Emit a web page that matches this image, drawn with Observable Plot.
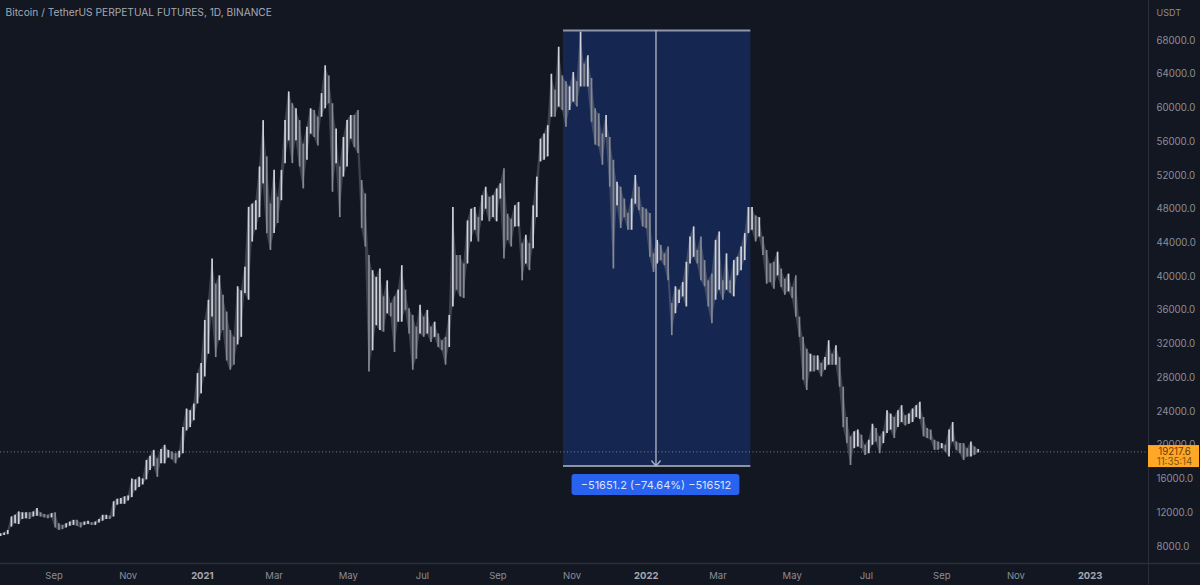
<!DOCTYPE html>
<html>
<head>
<meta charset="utf-8">
<script src="https://cdn.jsdelivr.net/npm/d3@7"></script>
<script src="https://cdn.jsdelivr.net/npm/@observablehq/plot@0.6"></script>
<style>
html,body{margin:0;padding:0;background:#131722;overflow:hidden}
svg{display:block}
</style>
</head>
<body>
<div id="chart"></div>
<script>
// One candle every 3 days, thousands of USDT
const firstDay = "2020-07-19";
const stepDays = 3;
const lows = [
9.2,9.3,9.4,10.3,10.7,10.6,11.2,11.3,11.2,11.5,11.6,11.5,11.4,11.3,11.4,10.2,9.9,10.0,10.2,10.4,
10.5,10.4,10.2,10.5,10.6,10.5,10.5,10.8,11.0,11.2,11.2,11.5,12.9,13.0,13.0,13.4,13.8,14.6,15.0,15.3,
15.9,17.0,17.5,16.2,17.8,17.8,18.5,18.3,17.8,18.5,19.0,21.7,22.1,22.9,24.9,26.1,28.1,30.8,35.2,30.4,
32.4,33.6,30.0,28.9,29.5,31.9,32.8,38.0,37.2,44.1,45.5,47.0,51.0,45.1,43.1,45.1,46.3,49.0,53.4,56.1,
53.4,56.1,53.0,50.4,53.8,56.9,56.5,55.5,58.9,59.9,60.5,50.0,53.4,47.0,51.8,53.0,56.3,55.3,54.6,45.7,
43.5,28.7,31.2,34.2,33.6,33.4,35.6,35.2,31.0,34.6,34.6,36.0,33.2,28.9,30.2,33.2,32.8,33.2,32.2,32.8,
31.6,31.2,29.5,31.6,36.4,38.4,37.6,37.4,41.5,44.1,45.5,44.1,46.6,48.0,46.5,47.0,46.5,49.2,42.1,44.3,
43.5,45.9,45.9,39.5,41.5,40.7,43.3,47.0,53.6,53.8,54.2,58.9,58.9,60.1,59.7,57.7,59.7,60.7,60.1,62.5,
62.5,62.5,58.3,55.6,55.4,53.2,56.5,50.6,40.9,48.4,45.7,47.0,45.5,45.5,48.6,47.8,45.9,45.7,42.3,40.5,
41.5,41.9,41.3,39.5,33.0,35.6,36.8,37.6,36.4,41.5,42.3,41.5,39.5,38.8,36.4,34.4,37.2,38.4,37.2,38.4,
38.0,37.6,40.1,40.7,41.9,45.1,45.5,44.1,44.7,42.5,39.1,39.3,38.5,40.1,38.7,37.8,38.2,37.4,35.2,32.8,
27.7,26.5,28.7,28.7,28.9,28.1,28.9,29.5,29.5,29.5,26.9,22.1,20.2,17.6,19.6,19.8,19.6,18.8,19.0,20.0,
20.4,19.0,20.2,21.4,21.8,20.8,22.1,22.7,22.3,22.5,22.7,23.3,23.1,21.0,20.8,20.6,19.4,19.4,19.6,19.2,
18.6,20.4,19.4,19.0,18.2,18.6,18.6,18.8,19.1
];
const highs = [
9.5,9.6,9.9,11.5,11.7,12.1,12.0,12.0,12.0,12.1,12.5,12.0,11.8,11.7,11.9,12.0,10.7,10.5,10.7,10.9,
11.1,11.1,10.8,10.9,11.0,10.8,10.9,11.2,11.7,11.7,11.6,13.3,13.6,13.7,13.9,14.0,16.0,15.9,16.2,16.0,
18.2,18.7,19.4,18.4,19.5,20.0,19.4,19.2,19.0,19.3,22.1,24.3,24.1,24.9,28.5,29.7,34.8,37.2,42.1,39.1,
40.1,37.8,35.8,33.6,32.8,38.8,38.3,41.1,48.2,48.6,49.0,53.0,58.5,54.2,48.6,52.6,49.4,52.6,58.5,61.9,
60.5,59.9,58.5,55.7,57.7,59.9,59.7,58.9,61.7,65.0,63.8,60.5,57.5,53.0,56.5,58.5,59.1,59.1,59.7,51.4,
49.8,42.5,40.7,39.9,40.9,37.6,39.5,36.8,37.6,38.4,41.3,38.4,36.2,35.4,34.0,36.6,35.2,36.0,34.0,34.6,
33.2,32.4,32.8,35.4,48.2,42.5,42.5,41.5,46.6,48.0,48.2,47.0,49.6,50.6,49.4,49.6,50.4,51.0,52.8,47.4,
46.8,48.4,48.8,43.9,44.9,43.9,48.4,51.8,56.3,56.9,57.9,64.0,62.1,67.2,63.8,63.1,62.5,64.2,63.1,69.0,
65.2,66.2,63.5,59.9,59.3,56.9,59.1,56.5,53.8,51.2,50.6,49.2,47.5,49.2,52.0,50.6,48.2,48.0,47.5,42.7,
44.3,43.7,42.7,43.5,36.8,38.8,38.4,39.3,41.7,44.7,45.9,43.1,44.7,41.9,39.5,40.3,44.3,45.3,39.5,42.7,
39.5,41.9,42.3,43.5,45.1,48.2,48.2,47.2,47.0,44.7,43.1,41.5,41.7,42.9,40.9,39.7,40.3,38.7,40.1,35.2,
32.8,31.4,30.8,30.6,30.6,29.7,30.4,32.4,30.8,31.8,30.4,26.9,23.3,21.0,21.6,21.8,21.2,20.0,20.6,22.5,
22.0,21.0,21.6,24.1,23.7,23.3,24.1,24.7,23.5,23.7,24.3,24.7,25.1,23.3,22.0,21.8,20.6,20.4,20.2,20.0,
21.8,22.7,20.4,20.2,20.2,19.6,20.4,19.8,19.5
];

const priceTicks = [8000,12000,16000,20000,24000,28000,32000,36000,40000,44000,48000,52000,56000,60000,64000,68000];
const monthTicks = ["2020-09-01","2020-11-01","2021-03-01","2021-05-01","2021-07-01","2021-09-01","2021-11-01","2022-03-01","2022-05-01","2022-07-01","2022-09-01","2022-11-01"];
const yearTicks = ["2021-01-01","2022-01-01","2023-01-01"];

const lastPrice = 19217.6;
const lastCountdown = "11:35:14";
const rangeTop = 69200;
const rangeBottom = 17548.8;
const rangeStart = "2021-10-25";
const rangeEnd = "2022-03-28";
const rangeMid = "2022-01-09";
const rangeText = "\u221251651.2 (\u221274.64%) \u2212516512";
const titleText = "Bitcoin / TetherUS PERPETUAL FUTURES, 1D, BINANCE";

const D = s => new Date(s + "T00:00:00Z");
const DAY = 864e5;
const t0 = D(firstDay).getTime();
const candles = lows.map((low, i) => {
  const mid = (low + highs[i]) / 2;
  const prev = i ? (lows[i-1] + highs[i-1]) / 2 : mid;
  return {date: new Date(t0 + i * stepDays * DAY), low: low * 1000, high: highs[i] * 1000, up: mid >= prev};
});
const xEnd = D("2023-02-18");
const font = "Inter, 'Noto Sans', sans-serif";
const axisColor = "#2a2e39";
const textColor = "#8b8e97";

const chart = Plot.plot({
  width: 1200,
  height: 585,
  marginLeft: 0,
  marginRight: 52,
  marginTop: 0,
  marginBottom: 22,
  style: {background: "#131722", fontFamily: font},
  x: {type: "utc", domain: [D(firstDay), xEnd], range: [0, 1148], axis: null},
  y: {domain: [8000, 68000], range: [546, 40], axis: null},
  marks: [
    Plot.rect([0], {x1: D(rangeStart), x2: D(rangeEnd), y1: rangeBottom, y2: rangeTop, fill: "#152750"}),
    Plot.ruleY([lastPrice], {stroke: "#8f929b", strokeWidth: 1, strokeDasharray: "1 2.5", strokeOpacity: 0.85}),
    // body of the candles between the sampled ones
    Plot.areaY(candles, {x: "date", y1: "low", y2: "high", fill: "#7f828c", fillOpacity: 0.4}),
    // candles: falling ones first, rising ones brighter on top
    Plot.ruleX(candles.filter(d => !d.up), {x: "date", y1: "low", y2: "high", stroke: "#868993", strokeWidth: 1.7}),
    Plot.ruleX(candles.filter(d => d.up), {x: "date", y1: "low", y2: "high", stroke: "#cfd2da", strokeWidth: 1.7}),
    // measuring tool
    Plot.ruleY([rangeTop], {x1: D(rangeStart), x2: D(rangeEnd), stroke: "#8e96aa", strokeWidth: 2}),
    Plot.ruleY([rangeBottom], {x1: D(rangeStart), x2: D(rangeEnd), stroke: "#b9bdc8", strokeWidth: 1.5}),
    Plot.arrow([0], {x: D(rangeMid), y1: rangeTop, y2: rangeBottom, bend: 0, stroke: "#a9aebb", strokeWidth: 1.4, headLength: 7, headAngle: 80, inset: 0}),
    Plot.rect([0], {x1: D("2021-11-01"), x2: D("2022-03-19"), y1: 14040, y2: 16530, fill: "#2962ef", rx: 3}),
    Plot.text([rangeText], {x: D(rangeMid), y: 15250, fill: "#dbe4fb", fontSize: 11, fontFamily: font, text: d => d}),
    // frame of the price and time scales
    Plot.ruleX([xEnd], {stroke: axisColor, strokeWidth: 1, insetBottom: -22}),
    Plot.ruleY([5970], {stroke: axisColor, strokeWidth: 1.5, insetRight: -52}),
    // price axis
    Plot.text(priceTicks, {x: xEnd, y: d => d, text: d => d.toFixed(1), dx: 8, textAnchor: "start", fill: textColor, fontSize: 9.7, fontFamily: font}),
    Plot.text(["USDT"], {frameAnchor: "top-right", dx: 8, dy: 9, fill: textColor, fontSize: 9, fontFamily: font, textAnchor: "start", text: d => d}),
    // time axis
    Plot.text(monthTicks, {x: d => D(d), y: 5970, dy: 12, text: d => d3.utcFormat("%b")(D(d)), fill: textColor, fontSize: 9.5, fontFamily: font}),
    Plot.text(yearTicks, {x: d => D(d), y: 5970, dy: 12, text: d => d.slice(0,4), fill: "#a5a8b0", fontSize: 9.5, fontWeight: "bold", fontFamily: font}),
    // last price tag
    Plot.rect([0], {x1: xEnd, x2: xEnd, y1: 17360, y2: 19970, insetRight: -51, fill: "#ffa726"}),
    Plot.text([lastPrice.toFixed(1)], {x: xEnd, y: lastPrice, dx: 26, fill: "#5c3d0a", fontSize: 9.7, fontFamily: font, text: d => d}),
    Plot.text([lastCountdown], {x: xEnd, y: 18070, dx: 26, fill: "#7a5310", fontSize: 9.7, fontFamily: font, text: d => d}),
    // title
    Plot.text([titleText], {frameAnchor: "top-left", dx: 5, dy: 8, fill: "#a6a9b2", fontSize: 10.2, fontFamily: font, textAnchor: "start", text: d => d})
  ]
});
document.getElementById("chart").append(chart);
</script>
</body>
</html>
